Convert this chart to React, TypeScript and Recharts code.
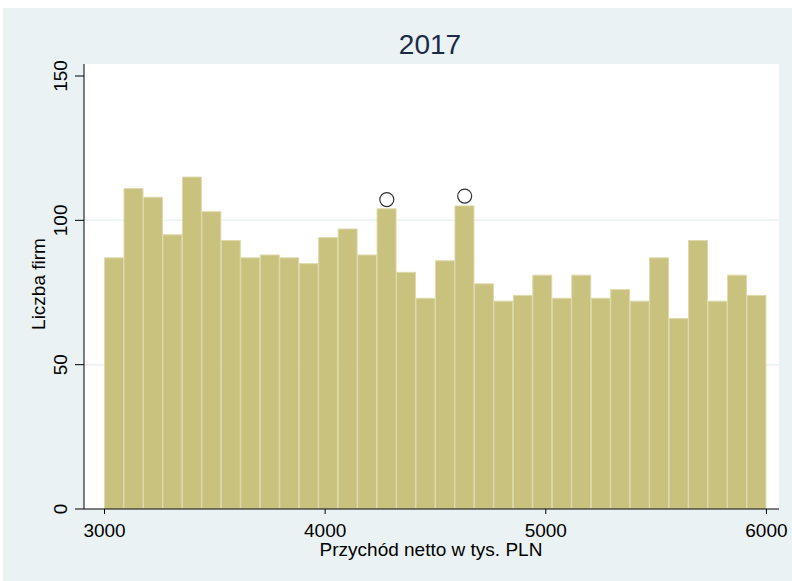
import { ComposedChart, Bar, Scatter, XAxis, YAxis, CartesianGrid } from 'recharts';

// histogram: 34 equal bins between 3000 and 6000
const binStart = 3000;
const binEnd = 6000;
const counts = [87, 111, 108, 95, 115, 103, 93, 87, 88, 87, 85, 94, 97, 88, 104, 82, 73, 86, 105, 78, 72, 74, 81, 73, 81, 73, 76, 72, 87, 66, 93, 72, 81, 74];
// circle markers above two bins (bin index, value)
const markerBins = [14, 18];
const markerValues = [107.2, 108.4];
const xTicks = [3000, 4000, 5000, 6000];
const yTicks = [0, 50, 100, 150];

const binWidth = (binEnd - binStart) / counts.length;
const bins = counts.map((c, i) => ({ x: binStart + (i + 0.5) * binWidth, count: c }));
const markers = markerBins.map((b, i) => ({ x: binStart + (b + 0.5) * binWidth, count: markerValues[i] }));

const font = '"Liberation Sans", Arial, sans-serif';

const YTick = (props: any) => {
    const { x, y, payload } = props;
    const bx = x - 8;
    return (
        <text x={bx} y={y} transform={`rotate(-90, ${bx}, ${y})`} textAnchor="middle" fontSize={19} fontFamily={font} fill="#000">
            {payload.value}
        </text>
    );
};

const Circle = (props: any) => <circle cx={props.cx} cy={props.cy} r={7} fill="none" stroke="#333" strokeWidth={1.2} />;

export default function App() {
    return (
        <div style={{ position: 'absolute', left: 3, top: 8, width: 789, height: 573, background: '#EAF2F3' }}>
            <ComposedChart width={789} height={573} data={bins} margin={{ top: 56, right: 13, bottom: 32, left: 51 }} barCategoryGap={0} barGap={0}>
                <CartesianGrid horizontal vertical={false} horizontalValues={[50, 100]} stroke="#EAF2F3" strokeWidth={1.5} fill="#ffffff" />
                <XAxis dataKey="x" type="number" domain={[2907, 6057]} allowDataOverflow ticks={xTicks} height={40} tickSize={5} tickMargin={10}
                    axisLine={{ stroke: '#000' }} tickLine={{ stroke: '#000' }} tick={{ fontSize: 19, fontFamily: font, fill: '#000' }} />
                <YAxis type="number" domain={[0, 154.16]} allowDataOverflow ticks={yTicks} width={30} tickSize={9} tickMargin={0}
                    axisLine={{ stroke: '#000' }} tickLine={{ stroke: '#000' }} tick={<YTick />} />
                <Bar dataKey="count" fill="#C9C27F" stroke="#DED9AB" strokeWidth={1} isAnimationActive={false} />
                <Scatter data={markers} dataKey="count" shape={<Circle />} isAnimationActive={false} />
                <text x={427} y={46} textAnchor="middle" fontSize={28} fontFamily={font} fill="#1C2A48">2017</text>
                <text x={428} y={548} textAnchor="middle" fontSize={19} fontFamily={font} fill="#000">Przychód netto w tys. PLN</text>
                <text x={42} y={276} transform="rotate(-90, 42, 276)" textAnchor="middle" fontSize={19} fontFamily={font} fill="#000">Liczba firm</text>
            </ComposedChart>
        </div>
    );
}
